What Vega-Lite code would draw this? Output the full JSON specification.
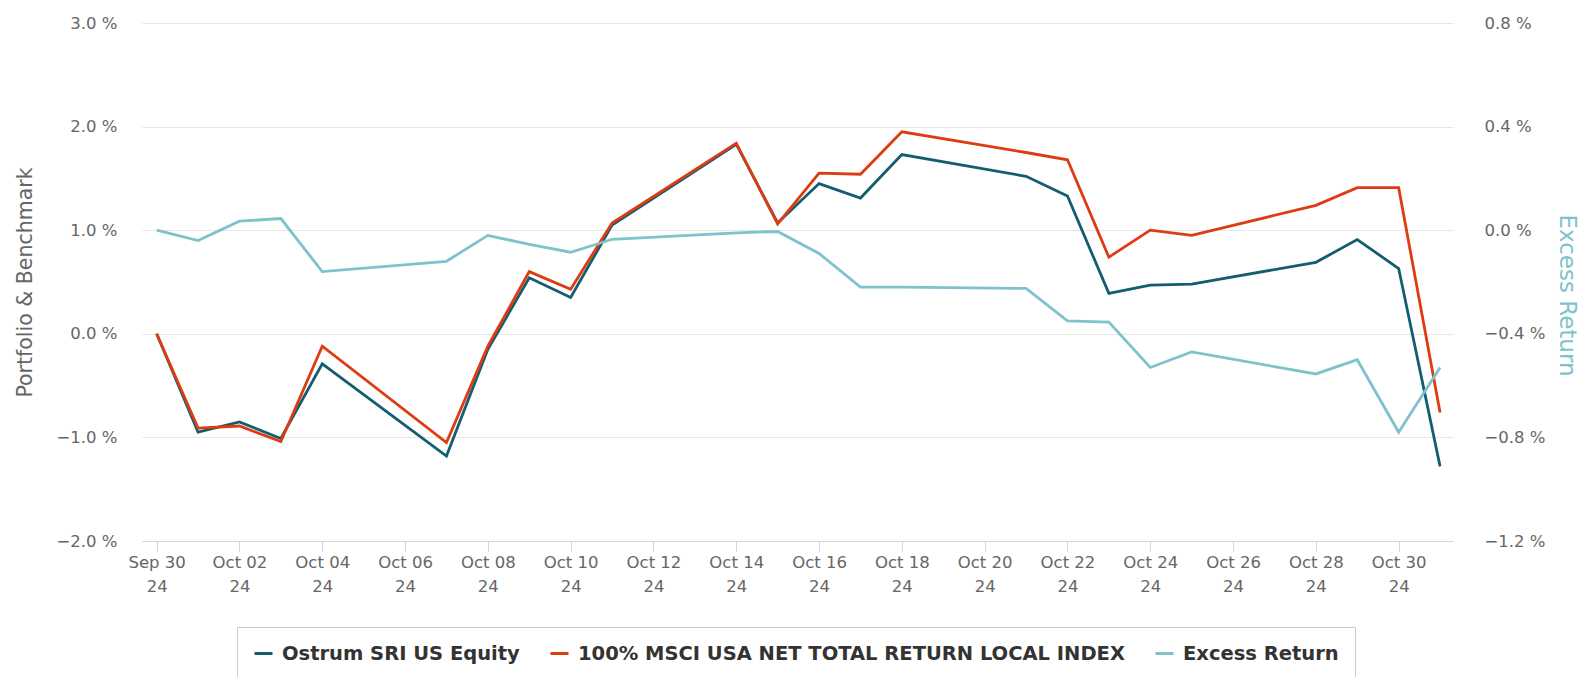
{
  "$schema": "https://vega.github.io/schema/vega-lite/v6.json",
  "width": 1311,
  "height": 518,
  "autosize": {"type": "none"},
  "padding": {"left": 142, "top": 23, "right": 127, "bottom": 136},
  "background": "white",
  "config": {"view": {"stroke": null}, "font": "DejaVu Sans"},
  "data": {"values": [
    {"date": "2024-09-30", "series": "Ostrum SRI US Equity", "value": 0.00},
    {"date": "2024-10-01", "series": "Ostrum SRI US Equity", "value": -0.95},
    {"date": "2024-10-02", "series": "Ostrum SRI US Equity", "value": -0.85},
    {"date": "2024-10-03", "series": "Ostrum SRI US Equity", "value": -1.01},
    {"date": "2024-10-04", "series": "Ostrum SRI US Equity", "value": -0.29},
    {"date": "2024-10-07", "series": "Ostrum SRI US Equity", "value": -1.18},
    {"date": "2024-10-08", "series": "Ostrum SRI US Equity", "value": -0.15},
    {"date": "2024-10-09", "series": "Ostrum SRI US Equity", "value": 0.54},
    {"date": "2024-10-10", "series": "Ostrum SRI US Equity", "value": 0.35},
    {"date": "2024-10-11", "series": "Ostrum SRI US Equity", "value": 1.05},
    {"date": "2024-10-14", "series": "Ostrum SRI US Equity", "value": 1.83},
    {"date": "2024-10-15", "series": "Ostrum SRI US Equity", "value": 1.07},
    {"date": "2024-10-16", "series": "Ostrum SRI US Equity", "value": 1.45},
    {"date": "2024-10-17", "series": "Ostrum SRI US Equity", "value": 1.31},
    {"date": "2024-10-18", "series": "Ostrum SRI US Equity", "value": 1.73},
    {"date": "2024-10-21", "series": "Ostrum SRI US Equity", "value": 1.52},
    {"date": "2024-10-22", "series": "Ostrum SRI US Equity", "value": 1.33},
    {"date": "2024-10-23", "series": "Ostrum SRI US Equity", "value": 0.39},
    {"date": "2024-10-24", "series": "Ostrum SRI US Equity", "value": 0.47},
    {"date": "2024-10-25", "series": "Ostrum SRI US Equity", "value": 0.48},
    {"date": "2024-10-28", "series": "Ostrum SRI US Equity", "value": 0.69},
    {"date": "2024-10-29", "series": "Ostrum SRI US Equity", "value": 0.91},
    {"date": "2024-10-30", "series": "Ostrum SRI US Equity", "value": 0.63},
    {"date": "2024-10-31", "series": "Ostrum SRI US Equity", "value": -1.28},
    {"date": "2024-09-30", "series": "100% MSCI USA NET TOTAL RETURN LOCAL INDEX", "value": 0.00},
    {"date": "2024-10-01", "series": "100% MSCI USA NET TOTAL RETURN LOCAL INDEX", "value": -0.91},
    {"date": "2024-10-02", "series": "100% MSCI USA NET TOTAL RETURN LOCAL INDEX", "value": -0.89},
    {"date": "2024-10-03", "series": "100% MSCI USA NET TOTAL RETURN LOCAL INDEX", "value": -1.04},
    {"date": "2024-10-04", "series": "100% MSCI USA NET TOTAL RETURN LOCAL INDEX", "value": -0.12},
    {"date": "2024-10-07", "series": "100% MSCI USA NET TOTAL RETURN LOCAL INDEX", "value": -1.05},
    {"date": "2024-10-08", "series": "100% MSCI USA NET TOTAL RETURN LOCAL INDEX", "value": -0.12},
    {"date": "2024-10-09", "series": "100% MSCI USA NET TOTAL RETURN LOCAL INDEX", "value": 0.60},
    {"date": "2024-10-10", "series": "100% MSCI USA NET TOTAL RETURN LOCAL INDEX", "value": 0.43},
    {"date": "2024-10-11", "series": "100% MSCI USA NET TOTAL RETURN LOCAL INDEX", "value": 1.07},
    {"date": "2024-10-14", "series": "100% MSCI USA NET TOTAL RETURN LOCAL INDEX", "value": 1.84},
    {"date": "2024-10-15", "series": "100% MSCI USA NET TOTAL RETURN LOCAL INDEX", "value": 1.06},
    {"date": "2024-10-16", "series": "100% MSCI USA NET TOTAL RETURN LOCAL INDEX", "value": 1.55},
    {"date": "2024-10-17", "series": "100% MSCI USA NET TOTAL RETURN LOCAL INDEX", "value": 1.54},
    {"date": "2024-10-18", "series": "100% MSCI USA NET TOTAL RETURN LOCAL INDEX", "value": 1.95},
    {"date": "2024-10-21", "series": "100% MSCI USA NET TOTAL RETURN LOCAL INDEX", "value": 1.75},
    {"date": "2024-10-22", "series": "100% MSCI USA NET TOTAL RETURN LOCAL INDEX", "value": 1.68},
    {"date": "2024-10-23", "series": "100% MSCI USA NET TOTAL RETURN LOCAL INDEX", "value": 0.74},
    {"date": "2024-10-24", "series": "100% MSCI USA NET TOTAL RETURN LOCAL INDEX", "value": 1.00},
    {"date": "2024-10-25", "series": "100% MSCI USA NET TOTAL RETURN LOCAL INDEX", "value": 0.95},
    {"date": "2024-10-28", "series": "100% MSCI USA NET TOTAL RETURN LOCAL INDEX", "value": 1.24},
    {"date": "2024-10-29", "series": "100% MSCI USA NET TOTAL RETURN LOCAL INDEX", "value": 1.41},
    {"date": "2024-10-30", "series": "100% MSCI USA NET TOTAL RETURN LOCAL INDEX", "value": 1.41},
    {"date": "2024-10-31", "series": "100% MSCI USA NET TOTAL RETURN LOCAL INDEX", "value": -0.76},
    {"date": "2024-09-30", "series": "Excess Return", "value": 0.00},
    {"date": "2024-10-01", "series": "Excess Return", "value": -0.04},
    {"date": "2024-10-02", "series": "Excess Return", "value": 0.035},
    {"date": "2024-10-03", "series": "Excess Return", "value": 0.045},
    {"date": "2024-10-04", "series": "Excess Return", "value": -0.16},
    {"date": "2024-10-07", "series": "Excess Return", "value": -0.12},
    {"date": "2024-10-08", "series": "Excess Return", "value": -0.02},
    {"date": "2024-10-09", "series": "Excess Return", "value": -0.055},
    {"date": "2024-10-10", "series": "Excess Return", "value": -0.085},
    {"date": "2024-10-11", "series": "Excess Return", "value": -0.035},
    {"date": "2024-10-14", "series": "Excess Return", "value": -0.01},
    {"date": "2024-10-15", "series": "Excess Return", "value": -0.005},
    {"date": "2024-10-16", "series": "Excess Return", "value": -0.09},
    {"date": "2024-10-17", "series": "Excess Return", "value": -0.22},
    {"date": "2024-10-18", "series": "Excess Return", "value": -0.22},
    {"date": "2024-10-21", "series": "Excess Return", "value": -0.225},
    {"date": "2024-10-22", "series": "Excess Return", "value": -0.35},
    {"date": "2024-10-23", "series": "Excess Return", "value": -0.355},
    {"date": "2024-10-24", "series": "Excess Return", "value": -0.53},
    {"date": "2024-10-25", "series": "Excess Return", "value": -0.47},
    {"date": "2024-10-28", "series": "Excess Return", "value": -0.555},
    {"date": "2024-10-29", "series": "Excess Return", "value": -0.50},
    {"date": "2024-10-30", "series": "Excess Return", "value": -0.78},
    {"date": "2024-10-31", "series": "Excess Return", "value": -0.53}
  ]},
  "encoding": {
    "x": {
      "field": "date",
      "type": "temporal",
      "scale": {
        "type": "utc",
        "domain": [
          {"year": 2024, "month": 9, "date": 29, "hours": 15, "minutes": 30, "utc": true},
          {"year": 2024, "month": 10, "date": 31, "hours": 7, "minutes": 30, "utc": true}
        ]
      },
      "axis": {
        "title": null,
        "values": [
          {"year": 2024, "month": 9, "date": 30, "utc": true},
          {"year": 2024, "month": 10, "date": 2, "utc": true},
          {"year": 2024, "month": 10, "date": 4, "utc": true},
          {"year": 2024, "month": 10, "date": 6, "utc": true},
          {"year": 2024, "month": 10, "date": 8, "utc": true},
          {"year": 2024, "month": 10, "date": 10, "utc": true},
          {"year": 2024, "month": 10, "date": 12, "utc": true},
          {"year": 2024, "month": 10, "date": 14, "utc": true},
          {"year": 2024, "month": 10, "date": 16, "utc": true},
          {"year": 2024, "month": 10, "date": 18, "utc": true},
          {"year": 2024, "month": 10, "date": 20, "utc": true},
          {"year": 2024, "month": 10, "date": 22, "utc": true},
          {"year": 2024, "month": 10, "date": 24, "utc": true},
          {"year": 2024, "month": 10, "date": 26, "utc": true},
          {"year": 2024, "month": 10, "date": 28, "utc": true},
          {"year": 2024, "month": 10, "date": 30, "utc": true}
        ],
        "labelExpr": "[utcFormat(datum.value, '%b %d'), utcFormat(datum.value, '%y')]",
        "grid": false,
        "domainColor": "#ccd6eb",
        "tickColor": "#ccd6eb",
        "tickSize": 10,
        "labelColor": "#666666",
        "labelFontSize": 16.5,
        "labelLineHeight": 24,
        "labelPadding": 3,
        "labelFlush": false,
        "labelOverlap": false
      }
    },
    "color": {
      "field": "series",
      "type": "nominal",
      "scale": {
        "domain": ["Ostrum SRI US Equity", "100% MSCI USA NET TOTAL RETURN LOCAL INDEX", "Excess Return"],
        "range": ["#125d70", "#dd3c12", "#7ec2cc"]
      },
      "legend": {
        "title": null,
        "orient": "none",
        "legendX": 95,
        "legendY": 604,
        "direction": "horizontal",
        "symbolType": "stroke",
        "symbolStrokeWidth": 3,
        "symbolSize": 324,
        "labelFontSize": 19.5,
        "labelFontWeight": "bold",
        "labelColor": "#333333",
        "labelLimit": 0,
        "labelOffset": 8,
        "columnPadding": 24,
        "padding": 16,
        "strokeColor": "#cccccc",
        "fillColor": "white"
      }
    }
  },
  "layer": [
    {
      "transform": [{"filter": "datum.series !== 'Excess Return'"}],
      "mark": {"type": "line", "strokeWidth": 2.8},
      "encoding": {
        "y": {
          "field": "value",
          "type": "quantitative",
          "scale": {"domain": [-2, 3], "nice": false, "zero": false},
          "axis": {
            "title": "Portfolio & Benchmark",
            "values": [-2, -1, 0, 1, 2, 3],
            "labelExpr": "format(datum.value, '.1f') + ' %'",
            "grid": true,
            "gridColor": "#e6e6e6",
            "domain": false,
            "ticks": false,
            "labelPadding": 25,
            "labelColor": "#666666",
            "labelFontSize": 16.5,
            "titleColor": "#666666",
            "titleFontSize": 20.5,
            "titleFontWeight": "normal",
            "titleAngle": -90,
            "titleX": -117,
            "titleY": 259,
            "titleAlign": "center",
            "titleBaseline": "middle"
          }
        }
      }
    },
    {
      "transform": [{"filter": "datum.series === 'Excess Return'"}],
      "mark": {"type": "line", "strokeWidth": 2.8},
      "encoding": {
        "y": {
          "field": "value",
          "type": "quantitative",
          "scale": {"domain": [-1.2, 0.8], "nice": false, "zero": false},
          "axis": {
            "orient": "right",
            "title": "Excess Return",
            "values": [-1.2, -0.8, -0.4, 0, 0.4, 0.8],
            "labelExpr": "format(datum.value, '.1f') + ' %'",
            "grid": false,
            "domain": false,
            "ticks": false,
            "labelPadding": 31,
            "labelColor": "#666666",
            "labelFontSize": 16.5,
            "titleColor": "#7ec2cc",
            "titleFontSize": 23,
            "titleFontWeight": "normal",
            "titleAngle": 90,
            "titleX": 113,
            "titleY": 272,
            "titleAlign": "center",
            "titleBaseline": "middle"
          }
        }
      }
    }
  ],
  "resolve": {"scale": {"y": "independent"}}
}
